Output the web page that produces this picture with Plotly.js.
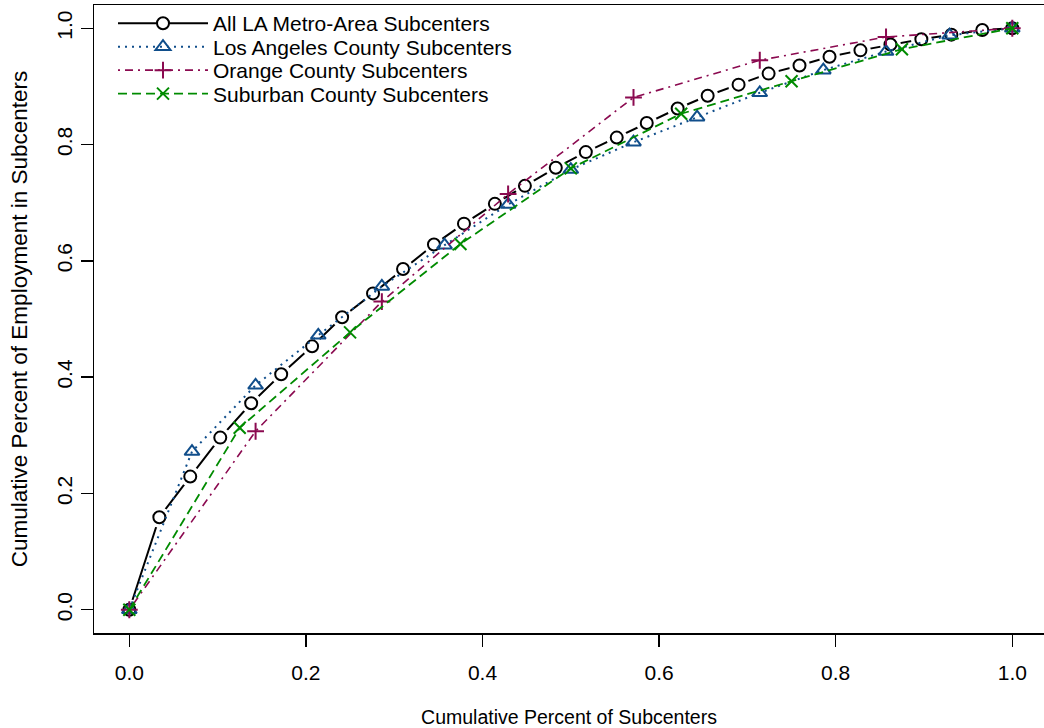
<!DOCTYPE html>
<html>
<head>
<meta charset="utf-8">
<script src="https://cdn.plot.ly/plotly-3.0.1.min.js"></script>
<style>html,body{margin:0;padding:0;background:#fff;}#chart{width:1044px;height:728px;}</style>
</head>
<body>
<div id="chart"></div>
<script>
// ---- data ----
var seriesNames = [
  "All LA Metro-Area Subcenters",
  "Los Angeles County Subcenters",
  "Orange County Subcenters",
  "Suburban County Subcenters"
];
var allX = [0, 0.034, 0.069, 0.103, 0.138, 0.172, 0.207, 0.241, 0.276, 0.310,
            0.345, 0.379, 0.414, 0.448, 0.483, 0.517, 0.552, 0.586, 0.621, 0.655,
            0.690, 0.724, 0.759, 0.793, 0.828, 0.862, 0.897, 0.931, 0.966, 1.0];
var allY = [0, 0.159, 0.229, 0.296, 0.355, 0.405, 0.453, 0.503, 0.544, 0.586,
            0.628, 0.664, 0.698, 0.729, 0.760, 0.787, 0.812, 0.837, 0.862, 0.884,
            0.903, 0.922, 0.936, 0.951, 0.962, 0.972, 0.981, 0.989, 0.997, 1.0];
var laX = [0, 0.071, 0.143, 0.214, 0.286, 0.357, 0.429, 0.5, 0.571, 0.643, 0.714, 0.786, 0.857, 0.929, 1.0];
var laY = [0, 0.272, 0.386, 0.472, 0.556, 0.627, 0.697, 0.757, 0.804, 0.847, 0.889, 0.928, 0.960, 0.988, 1.0];
var ocX = [0, 0.143, 0.286, 0.429, 0.571, 0.714, 0.857, 1.0];
var ocY = [0, 0.307, 0.530, 0.715, 0.881, 0.945, 0.985, 1.0];
var subX = [0, 0.125, 0.25, 0.375, 0.5, 0.625, 0.75, 0.875, 1.0];
var subY = [0, 0.313, 0.477, 0.629, 0.759, 0.853, 0.909, 0.964, 1.0];
var tickVals = [0, 0.2, 0.4, 0.6, 0.8, 1.0];
var tickText = ["0.0", "0.2", "0.4", "0.6", "0.8", "1.0"];
var xTitle = "Cumulative Percent of Subcenters";
var yTitle = "Cumulative Percent of Employment in Subcenters";

// ---- styling ----
var FONT = "Liberation Sans, Arial, Helvetica, sans-serif";
var colors = ["#000000", "#104E8B", "#8B0A50", "#008B00"];
var legendRowsY = [0.9705, 0.9331, 0.8957, 0.8583];

var traces = [
  // All LA: line + markers (legend entry); white halo then circles on top to mimic type="b" gaps
  {x: allX, y: allY, name: seriesNames[0], legend: "legend",
   mode: "lines+markers", line: {color: colors[0], width: 2, dash: "solid"},
   marker: {symbol: "circle", size: 12, color: "#ffffff", line: {color: colors[0], width: 2}}},
  {x: allX, y: allY, name: seriesNames[0], showlegend: false, hoverinfo: "skip",
   mode: "markers", marker: {symbol: "circle", size: 21, color: "#ffffff", opacity: 1, line: {width: 0, color: "#ffffff"}}},
  {x: allX, y: allY, name: seriesNames[0], showlegend: false,
   mode: "markers", marker: {symbol: "circle-open", size: 12, color: colors[0], line: {color: colors[0], width: 2}}},
  {x: laX, y: laY, name: seriesNames[1], legend: "legend2",
   mode: "lines+markers", line: {color: colors[1], width: 2, dash: "2px,5px"},
   marker: {symbol: "triangle-up-open", size: 13, color: colors[1], line: {color: colors[1], width: 2}}},
  {x: ocX, y: ocY, name: seriesNames[2], legend: "legend3",
   mode: "lines+markers", line: {color: colors[2], width: 1.6, dash: "2px,5px,8px,5px"},
   marker: {symbol: "cross-thin-open", size: 12, color: colors[2], line: {color: colors[2], width: 2}}},
  {x: subX, y: subY, name: seriesNames[3], legend: "legend4",
   mode: "lines+markers", line: {color: colors[3], width: 1.8, dash: "9px,5px"},
   marker: {symbol: "x-thin-open", size: 12, color: colors[3], line: {color: colors[3], width: 2}}}
];

function mkLegend(yv) {
  return {x: 0.02, y: yv, xanchor: "left", yanchor: "middle",
          bgcolor: "rgba(0,0,0,0)", borderwidth: 0, itemwidth: 90,
          font: {family: FONT, size: 21, color: "#000"}};
}

var layout = {
  width: 1044, height: 728,
  margin: {l: 94, r: 0, t: 5, b: 95},
  paper_bgcolor: "#ffffff", plot_bgcolor: "#ffffff",
  font: {family: FONT, size: 21, color: "#000"},
  showlegend: true,
  legend: mkLegend(legendRowsY[0]),
  legend2: mkLegend(legendRowsY[1]),
  legend3: mkLegend(legendRowsY[2]),
  legend4: mkLegend(legendRowsY[3]),
  xaxis: {
    range: [-0.04, 1.0359], tickvals: tickVals, ticktext: tickText,
    showgrid: false, zeroline: false, showline: true, mirror: true,
    linecolor: "#000", linewidth: 1.5,
    ticks: "outside", ticklen: 12, tickwidth: 1.5, tickcolor: "#000",
    ticklabelstandoff: 8,
    tickfont: {family: FONT, size: 21, color: "#000"},
    title: {text: xTitle, font: {family: FONT, size: 19.5, color: "#000"}, standoff: 27}
  },
  yaxis: {
    range: [-0.04, 1.04], tickvals: tickVals, ticktext: tickText,
    showgrid: false, zeroline: false, showline: true, mirror: false,
    linecolor: "#000", linewidth: 1.5,
    ticks: "outside", ticklen: 12, tickwidth: 1.5, tickcolor: "#000",
    tickangle: -90, ticklabelstandoff: 0,
    tickfont: {family: FONT, size: 21, color: "#000"},
    title: {text: yTitle, font: {family: FONT, size: 22.5, color: "#000"}, standoff: 19}
  }
};

Plotly.newPlot("chart", traces, layout, {displayModeBar: false, staticPlot: true});
</script>
</body>
</html>
